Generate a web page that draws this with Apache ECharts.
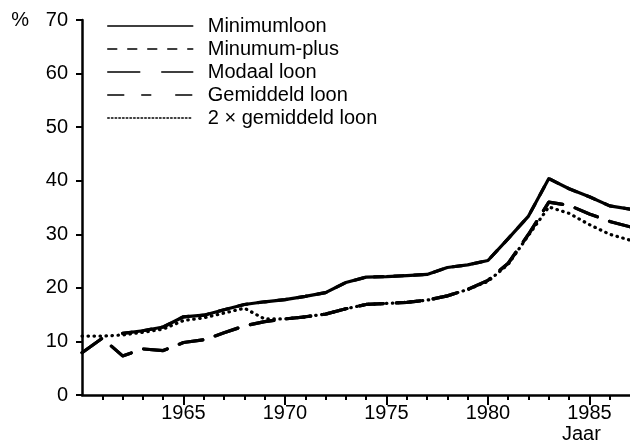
<!DOCTYPE html>
<html>
<head>
<meta charset="utf-8">
<script src="https://cdn.jsdelivr.net/npm/echarts@6/dist/echarts.min.js"></script>
<style>
  html, body { margin: 0; padding: 0; background: #fff; }
  #chart { width: 630px; height: 442px; }
</style>
</head>
<body>
<div id="chart"></div>
<script>
// jaren op de x-as
const years = [1960, 1961, 1962, 1963, 1964, 1965, 1966, 1967, 1968, 1969,
  1970, 1971, 1972, 1973, 1974, 1975, 1976, 1977, 1978, 1979,
  1980, 1981, 1982, 1983, 1984, 1985, 1986, 1987]

const minimumloon = [null, null, 11.5, 12.0, 12.7, 14.6, 14.9, 15.9, 16.9, 17.4,
  17.8, 18.4, 19.1, 21.0, 22.0, 22.1, 22.3, 22.5, 23.8, 24.3,
  25.1, 29.2, 33.4, 40.4, 38.5, 37.0, 35.3, 34.7]
const minimumPlus = [null, null, 11.5, 12.0, 12.7, 14.6, 14.9, 15.9, 16.9, 17.4,
  17.8, 18.4, 19.1, 21.0, 22.0, 22.1, 22.3, 22.5, 23.8, 24.3,
  25.1, 29.2, 33.4, 40.4, 38.5, 37.0, 35.3, 34.7]
const modaalLoon = [7.9, 10.6, 7.3, 8.6, 8.3, 9.8, 10.3, 11.6, 12.9, 13.7,
  14.2, 14.6, 15.1, 16.1, 16.9, 17.1, 17.3, 17.7, 18.5, 19.7,
  21.4, 24.6, 30.0, 36.0, 35.4, 33.8, 32.4, 31.4]
const gemiddeldLoon = [7.9, 10.6, 7.3, 8.6, 8.3, 9.8, 10.3, 11.6, 12.9, 13.7,
  14.2, 14.6, 15.1, 16.1, 16.9, 17.1, 17.3, 17.7, 18.5, 19.7,
  21.4, 24.6, 30.0, 36.0, 35.4, 33.8, 32.4, 31.4]
const tweeGemiddeld = [11.0, 11.0, 11.2, 11.7, 12.3, 13.9, 14.4, 15.3, 16.2, 14.2,
  14.2, 14.6, 15.1, 16.1, 16.9, 17.1, 17.3, 17.7, 18.5, 19.7,
  21.2, 24.4, 29.8, 35.1, 33.9, 31.8, 30.0, 28.9]

const yearLabels = [1965, 1970, 1975, 1980, 1985]
const fontFamily = '"Liberation Sans", Arial, Helvetica, sans-serif'

function pairs(values) {
  return years.map((y, i) => [y, values[i]])
}

function lineSeries(name, values, type) {
  return {
    name: name,
    type: 'line',
    data: pairs(values),
    symbol: 'none',
    smooth: false,
    lineStyle: { color: '#000', width: 3.2, type: type, cap: 'round', join: 'round' },
    itemStyle: { color: '#000' }
  }
}

const chart = echarts.init(document.getElementById('chart'))
chart.setOption({
  animation: false,
  backgroundColor: '#fff',
  grid: { left: 82, right: 0, top: 20, bottom: 47 },
  legend: {
    orient: 'vertical',
    left: 102,
    top: 11,
    itemWidth: 85,
    itemHeight: 14,
    itemGap: 3,
    selectedMode: false,
    // alleen de lijn in de legenda, geen bolletje
    itemStyle: { color: 'rgba(0,0,0,0)', opacity: 0, borderWidth: 0 },
    textStyle: { fontSize: 20, color: '#000', fontFamily: fontFamily, padding: [0, 0, 0, 10] },
    data: [
      { name: 'Minimumloon', lineStyle: { width: 1.5, type: 'solid' } },
      { name: 'Minumum-plus', lineStyle: { width: 1.5, type: [9, 11] } },
      { name: 'Modaal loon', lineStyle: { width: 1.5, type: [32, 22] } },
      { name: 'Gemiddeld loon', lineStyle: { width: 1.5, type: [16, 18, 9, 25] } },
      { name: '2 × gemiddeld loon', lineStyle: { width: 1.5, type: [1.5, 2.2] } }
    ]
  },
  xAxis: {
    type: 'value',
    min: 1960,
    max: 1987,
    interval: 5,
    axisLine: { lineStyle: { color: '#000', width: 2.5 } },
    axisTick: { show: true, length: 10, customValues: yearLabels, lineStyle: { color: '#000', width: 2 } },
    minorTick: { show: true, splitNumber: 5, length: 5, lineStyle: { color: '#000', width: 2 } },
    axisLabel: {
      customValues: yearLabels, fontSize: 20, color: '#000', fontFamily: fontFamily, margin: 8,
      formatter: v => String(v)
    },
    splitLine: { show: false },
    minorSplitLine: { show: false }
  },
  yAxis: {
    type: 'value',
    min: 0,
    max: 70,
    interval: 10,
    axisLine: { show: true, lineStyle: { color: '#000', width: 2.5 } },
    axisTick: { show: true, length: 6, lineStyle: { color: '#000', width: 2 } },
    axisLabel: {
      fontSize: 20, color: '#000', fontFamily: fontFamily, margin: 14,
      formatter: v => (v === 70 ? '%   70' : String(v))
    },
    splitLine: { show: false }
  },
  graphic: [{
    type: 'text',
    left: 562,
    top: 424,
    style: { text: 'Jaar', fontSize: 20, fill: '#000', fontFamily: fontFamily }
  }],
  series: [
    lineSeries('Minimumloon', minimumloon, 'solid'),
    lineSeries('Minumum-plus', minimumPlus, [9, 11]),
    lineSeries('Modaal loon', modaalLoon, [24, 13]),
    lineSeries('Gemiddeld loon', gemiddeldLoon, [24, 13]),
    lineSeries('2 × gemiddeld loon', tweeGemiddeld, [0.5, 5.5])
  ]
})
</script>
</body>
</html>
